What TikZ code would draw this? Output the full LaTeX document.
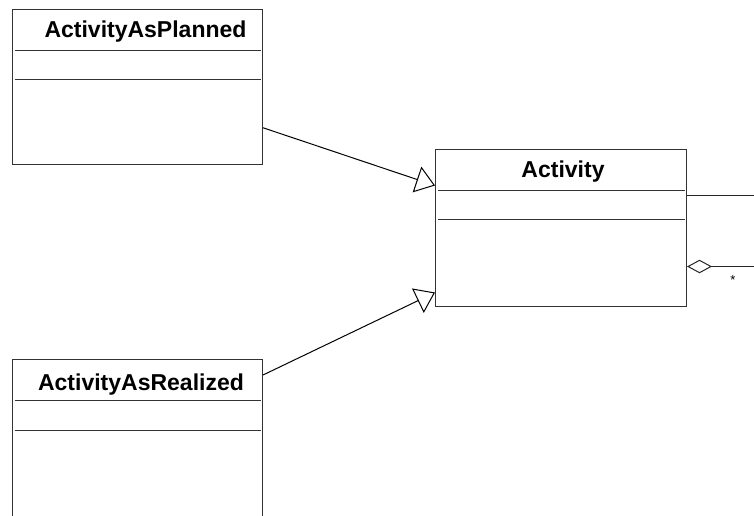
\documentclass[tikz,border=0pt]{standalone}
\usepackage{fontspec}
\setmainfont{Liberation Sans}
\usetikzlibrary{arrows.meta}
\tikzset{
  classbox/.style={draw=black!80, line width=1pt, anchor=north west, inner sep=0pt},
  classname/.style={anchor=base, inner sep=0pt, font=\fontsize{23}{27}\selectfont\bfseries},
  divider/.style={draw=black!80, line width=1pt},
  assoc/.style={draw=black!85, line width=1pt},
}
\begin{document}
\begin{tikzpicture}[x=1pt, y=-1pt, >={Triangle[open,length=19pt,width=27pt]}]
  \clip (0,0) rectangle (754,515);
  % các lớp
  \foreach \n/\x/\y/\w/\h in {plan/11.5/8.5/250.5/155.5, real/11.5/359/250.5/170,
                              act/435/148.5/251/157}{
    \node[classbox, minimum width=\w pt, minimum height=\h pt] (\n) at (\x,\y) {};
    \draw[divider] ([shift={(3,41.5)}]\n.north west) -- ([shift={(-2,41.5)}]\n.north east);
    \draw[divider] ([shift={(3,71)}]\n.north west) -- ([shift={(-2,71)}]\n.north east);
  }
  \node[classname] (plan-name) at (145.5,37) {ActivityAsPlanned};
  \node[classname] (real-name) at (141,390) {ActivityAsRealized};
  \node[classname] (act-name) at (563,177) {Activity};
  % kế thừa
  \draw[->, line width=1pt] ([shift={(0,41)}]plan.east) -- ([shift={(0,-42)}]act.west);
  \draw[->, line width=1pt] ([shift={(0,16)}]real.north east) -- ([shift={(0,-14)}]act.south west);
  % liên kết ra ngoài
  \coordinate (out1) at (754,195);
  \coordinate (out2) at (754,266.5);
  \draw[assoc] (act.east |- out1) -- (out1);
  \draw[assoc, {Diamond[open,length=25pt,width=13.5pt]}-] (act.east |- out2) -- (out2);
  \node[anchor=base, inner sep=0pt, font=\fontsize{13}{15}\selectfont] (mult) at (733,284) {*};
\end{tikzpicture}
\end{document}
